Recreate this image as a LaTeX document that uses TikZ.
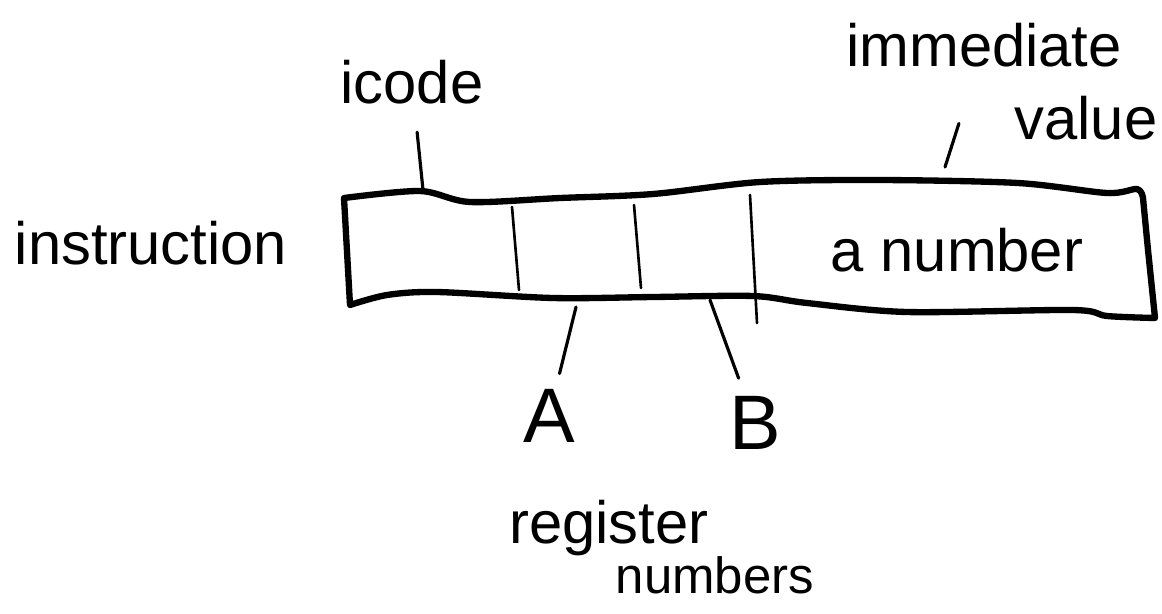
\documentclass[tikz,border=0pt]{standalone}
\usepackage{fontspec}
\setmainfont{Liberation Sans}
\begin{document}
\begin{tikzpicture}[x=0.02cm,y=-0.02cm,
  lbl/.style={font=\fontsize{34}{40}\selectfont, inner sep=0pt},
  big/.style={font=\fontsize{44}{50}\selectfont, inner sep=0pt},
  boxline/.style={line width=3.6pt, line join=round, line cap=round},
  lead/.style={line width=1.8pt, line cap=round},
  divider/.style={line width=1.5pt, line cap=round}]
\useasboundingbox (0,0) rectangle (1162,613);
            % labels
            \node[lbl] (instr)  at (151,243) {instruction};
            \node[lbl] (icode)  at (412,82)  {icode};
            \node[lbl] (imm)    at (984,45)  {immediate};
            \node[lbl] (val)    at (1086,118) {value};
            \node[lbl] (num)    at (957,250) {a number};
            \node[big] (A)      at (549,416) {A};
            \node[big] (B)      at (755,423) {B};
            \node[lbl] (reg)    at (609,528) {register};
            \node[lbl, font=\fontsize{29}{34}\selectfont] (regnum) at (715,575) {numbers};
            % the instruction word
            \draw[boxline] plot[smooth, tension=0.5] coordinates {(344,198) (420,191) (470,202) (560,198) (653,194) (760,182) (880,180) (1018,183) (1107,193) (1137,189) (1143,198)}
                -- (1148,250) -- (1155,318)
                -- plot[smooth, tension=0.5] coordinates {(1155,318) (1107,316) (1073,310) (907,312) (807,303) (753,296) (653,297) (553,298) (437,292) (387,295) (350,305)}
                -- cycle;
            \draw[divider] (512,207) -- (519,290);
            \draw[divider] (634,205) -- (641,288);
            \draw[divider] (750,195) -- (757,323);
            % fields
            \coordinate (icodetip) at (423,190);
            \coordinate (immtip)   at (945,167);
            \coordinate (Atip)     at (576,307);
            \coordinate (Btip)     at (710,300);
            \draw[lead, shorten <=0.56cm] (icode) -- (icodetip);
            \draw[lead, shorten <=1.18cm] (imm) -- (immtip);
            \draw[lead, shorten >=0.32cm] (Atip) -- (A);
            \draw[lead, shorten >=0.38cm] (Btip) -- (B);
        \end{tikzpicture}
\end{document}
